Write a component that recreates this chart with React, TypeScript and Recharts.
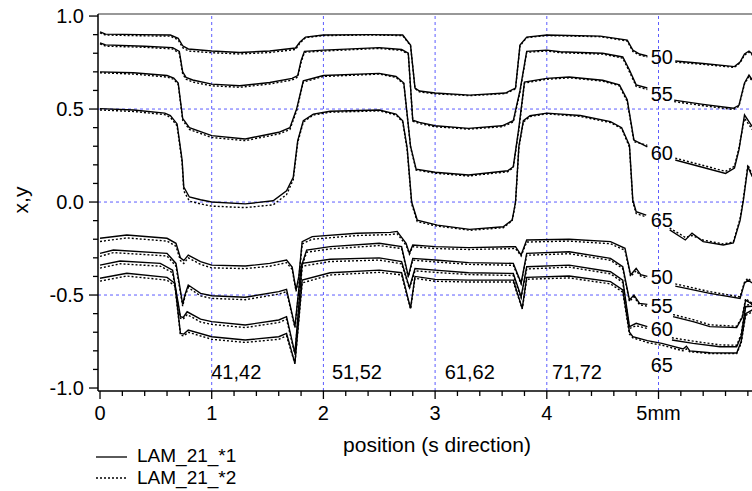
import { LineChart, Line, XAxis, YAxis, ReferenceLine, ReferenceDot } from 'recharts';

// axis ranges and ticks
const X_DOMAIN: [number, number] = [-0.018, 5.837];
const Y_DOMAIN: [number, number] = [-1.016, 1.011];
const X_TICKS = [0, 0.2, 0.4, 0.6, 0.8, 1, 1.2, 1.4, 1.6, 1.8, 2, 2.2, 2.4, 2.6, 2.8, 3, 3.2, 3.4, 3.6, 3.8, 4, 4.2, 4.4, 4.6, 4.8, 5, 5.2, 5.4, 5.6, 5.8];
const X_MAJOR_LABELS = ['0', '1', '2', '3', '4', '5mm'];
const Y_TICKS = [-1, -0.9, -0.8, -0.7, -0.6, -0.5, -0.4, -0.3, -0.2, -0.1, 0, 0.1, 0.2, 0.3, 0.4, 0.5, 0.6, 0.7, 0.8, 0.9, 1];
const GRID_X = [1, 2, 3, 4, 5];
const GRID_Y = [-0.5, 0, 0.5];

// upper group (x profiles) — A = LAM_21_*1 (solid), B = LAM_21_*2 (dotted)
const up50X = [0, 0.05, 0.36, 0.63, 0.7, 0.74, 0.79, 1.0, 1.25, 1.52, 1.75, 1.79, 1.84, 2.0, 2.42, 2.71, 2.78, 2.82, 2.86, 3.0, 3.31, 3.63, 3.72, 3.76, 3.82, 4.0, 4.48, 4.72, 4.77, 4.83, 4.9, 5.0, 5.15, 5.4, 5.68, 5.73, 5.77, 5.81, 5.84];
const up50A = [0.915, 0.903, 0.9, 0.898, 0.88, 0.84, 0.823, 0.812, 0.804, 0.812, 0.828, 0.86, 0.887, 0.898, 0.9, 0.898, 0.844, 0.613, 0.597, 0.586, 0.575, 0.586, 0.613, 0.844, 0.887, 0.898, 0.892, 0.871, 0.817, 0.796, 0.785, null, 0.758, 0.745, 0.728, 0.753, 0.796, 0.812, 0.796];
const up50B = [0.91, 0.898, 0.894, 0.892, 0.872, 0.83, 0.812, 0.803, 0.796, 0.804, 0.82, 0.855, 0.884, 0.895, 0.898, 0.895, 0.84, 0.61, 0.592, 0.582, 0.572, 0.583, 0.608, 0.84, 0.884, 0.895, 0.889, 0.866, 0.81, 0.79, 0.78, null, 0.752, 0.74, 0.724, 0.748, 0.79, 0.806, 0.79];

const up55X = [0, 0.05, 0.4, 0.65, 0.71, 0.74, 0.77, 0.83, 1.0, 1.25, 1.52, 1.72, 1.77, 1.8, 1.83, 2.0, 2.5, 2.7, 2.76, 2.8, 2.86, 3.0, 3.3, 3.6, 3.7, 3.76, 3.82, 4.0, 4.12, 4.5, 4.68, 4.74, 4.8, 4.9, 5.0, 5.14, 5.4, 5.67, 5.72, 5.77, 5.81, 5.84];
const up55A = [0.855, 0.845, 0.838, 0.83, 0.81, 0.7, 0.67, 0.656, 0.634, 0.625, 0.643, 0.665, 0.68, 0.76, 0.81, 0.817, 0.83, 0.82, 0.8, 0.44, 0.428, 0.41, 0.396, 0.41, 0.437, 0.6, 0.81, 0.817, 0.808, 0.8, 0.78, 0.71, 0.63, 0.613, null, 0.548, 0.525, 0.504, 0.52, 0.64, 0.683, 0.656];
const up55B = [0.85, 0.838, 0.832, 0.823, 0.8, 0.69, 0.66, 0.645, 0.625, 0.617, 0.635, 0.656, 0.672, 0.75, 0.805, 0.812, 0.826, 0.815, 0.795, 0.435, 0.422, 0.405, 0.392, 0.405, 0.43, 0.59, 0.805, 0.812, 0.803, 0.795, 0.774, 0.7, 0.622, 0.605, null, 0.54, 0.518, 0.498, 0.515, 0.635, 0.675, 0.648];

const up60X = [0, 0.3, 0.6, 0.66, 0.7, 0.74, 0.8, 1.0, 1.3, 1.6, 1.7, 1.76, 1.82, 2.0, 2.5, 2.65, 2.72, 2.78, 2.83, 3.0, 3.3, 3.65, 3.7, 3.75, 3.8, 4.0, 4.2, 4.5, 4.65, 4.72, 4.78, 4.9, 5.0, 5.15, 5.6, 5.68, 5.72, 5.77, 5.84];
const up60A = [0.7, 0.695, 0.68, 0.667, 0.64, 0.45, 0.4, 0.357, 0.339, 0.375, 0.4, 0.5, 0.652, 0.68, 0.692, 0.675, 0.64, 0.3, 0.177, 0.16, 0.145, 0.168, 0.19, 0.4, 0.645, 0.665, 0.672, 0.655, 0.63, 0.55, 0.333, 0.297, null, 0.226, 0.154, 0.183, 0.28, 0.468, 0.405];
const up60B = [0.695, 0.688, 0.672, 0.66, 0.632, 0.44, 0.39, 0.347, 0.33, 0.366, 0.39, 0.49, 0.645, 0.675, 0.688, 0.67, 0.635, 0.295, 0.172, 0.155, 0.14, 0.163, 0.185, 0.39, 0.64, 0.66, 0.668, 0.65, 0.625, 0.54, 0.325, 0.305, null, 0.236, 0.165, 0.192, 0.29, 0.45, 0.39];

const up65X = [0, 0.3, 0.58, 0.63, 0.69, 0.735, 0.75, 0.8, 0.9, 1.0, 1.3, 1.55, 1.67, 1.73, 1.77, 1.82, 1.91, 2.06, 2.5, 2.65, 2.71, 2.75, 2.79, 2.84, 3.02, 3.31, 3.61, 3.69, 3.72, 3.75, 3.79, 3.85, 4.0, 4.3, 4.57, 4.67, 4.74, 4.77, 4.8, 4.89, 5.0, 5.1, 5.24, 5.3, 5.4, 5.58, 5.67, 5.73, 5.76, 5.8, 5.84];
const up65A = [0.502, 0.495, 0.478, 0.465, 0.42, 0.226, 0.08, 0.027, 0.012, 0.0, -0.01, 0.007, 0.06, 0.133, 0.33, 0.437, 0.473, 0.488, 0.495, 0.473, 0.437, 0.29, 0.0, -0.097, -0.124, -0.147, -0.133, -0.097, 0.0, 0.3, 0.437, 0.464, 0.478, 0.465, 0.432, 0.4, 0.305, 0.01, -0.052, -0.07, null, -0.15, -0.204, -0.167, -0.213, -0.231, -0.22, -0.1, 0.01, 0.19, 0.136];
const up65B = [0.495, 0.487, 0.47, 0.455, 0.41, 0.21, 0.06, 0.005, -0.01, -0.022, -0.03, -0.015, 0.04, 0.12, 0.32, 0.43, 0.468, 0.483, 0.49, 0.468, 0.43, 0.28, -0.01, -0.105, -0.13, -0.152, -0.138, -0.1, -0.005, 0.29, 0.43, 0.46, 0.474, 0.46, 0.427, 0.395, 0.295, 0.0, -0.062, -0.08, null, -0.14, -0.19, -0.18, -0.205, -0.225, -0.215, -0.09, 0.02, 0.2, 0.145];

// lower group (y profiles)
const lo50X = [0, 0.24, 0.6, 0.68, 0.72, 0.75, 0.79, 0.9, 1.0, 1.3, 1.52, 1.67, 1.72, 1.755, 1.78, 1.81, 1.9, 2.3, 2.6, 2.66, 2.74, 2.77, 2.8, 3.0, 3.3, 3.72, 3.77, 3.82, 4.2, 4.57, 4.7, 4.75, 4.8, 4.84, 4.9, 5.0, 5.15, 5.46, 5.73, 5.77, 5.8, 5.84];
const lo50A = [-0.195, -0.177, -0.195, -0.222, -0.3, -0.315, -0.285, -0.32, -0.339, -0.344, -0.33, -0.312, -0.35, -0.473, -0.4, -0.213, -0.186, -0.168, -0.163, -0.158, -0.222, -0.276, -0.231, -0.24, -0.245, -0.24, -0.285, -0.204, -0.2, -0.213, -0.249, -0.392, -0.357, -0.39, -0.4, null, -0.452, -0.491, -0.518, -0.436, -0.42, -0.435];
const lo50B = [-0.212, -0.193, -0.21, -0.238, -0.315, -0.33, -0.3, -0.335, -0.354, -0.358, -0.345, -0.326, -0.362, -0.48, -0.41, -0.225, -0.2, -0.18, -0.175, -0.17, -0.232, -0.28, -0.24, -0.25, -0.255, -0.25, -0.29, -0.215, -0.21, -0.224, -0.26, -0.4, -0.37, -0.398, -0.41, null, -0.44, -0.482, -0.51, -0.43, -0.41, -0.43];

const lo55X = [0, 0.12, 0.6, 0.68, 0.74, 0.76, 0.79, 0.9, 1.0, 1.3, 1.6, 1.67, 1.745, 1.8, 1.85, 2.06, 2.5, 2.7, 2.76, 2.8, 3.0, 3.3, 3.7, 3.77, 3.82, 4.2, 4.57, 4.68, 4.74, 4.78, 4.83, 4.9, 5.0, 5.13, 5.31, 5.46, 5.7, 5.75, 5.78, 5.84];
const lo55A = [-0.276, -0.258, -0.276, -0.33, -0.55, -0.5, -0.446, -0.491, -0.504, -0.512, -0.482, -0.47, -0.67, -0.35, -0.258, -0.24, -0.222, -0.24, -0.4, -0.303, -0.312, -0.326, -0.33, -0.436, -0.276, -0.267, -0.303, -0.348, -0.527, -0.5, -0.545, -0.55, null, -0.616, -0.643, -0.67, -0.675, -0.62, -0.527, -0.55];
const lo55B = [-0.292, -0.272, -0.29, -0.345, -0.56, -0.51, -0.46, -0.505, -0.518, -0.525, -0.495, -0.482, -0.675, -0.36, -0.27, -0.252, -0.234, -0.25, -0.405, -0.312, -0.322, -0.335, -0.34, -0.44, -0.286, -0.278, -0.313, -0.358, -0.535, -0.51, -0.552, -0.56, null, -0.605, -0.632, -0.66, -0.668, -0.615, -0.52, -0.545];

const lo60X = [0, 0.18, 0.54, 0.65, 0.72, 0.745, 0.78, 0.9, 1.0, 1.3, 1.6, 1.67, 1.745, 1.81, 2.06, 2.5, 2.7, 2.77, 2.82, 3.0, 3.3, 3.7, 3.77, 3.82, 4.2, 4.57, 4.68, 4.74, 4.8, 4.9, 5.0, 5.12, 5.31, 5.55, 5.7, 5.74, 5.78, 5.84];
const lo60A = [-0.339, -0.317, -0.33, -0.366, -0.616, -0.62, -0.59, -0.63, -0.643, -0.661, -0.634, -0.616, -0.814, -0.33, -0.308, -0.3, -0.32, -0.46, -0.357, -0.366, -0.38, -0.384, -0.509, -0.348, -0.339, -0.375, -0.42, -0.67, -0.652, -0.67, null, -0.742, -0.76, -0.778, -0.778, -0.72, -0.563, -0.56];
const lo60B = [-0.355, -0.332, -0.345, -0.38, -0.625, -0.63, -0.605, -0.645, -0.658, -0.675, -0.648, -0.63, -0.82, -0.345, -0.32, -0.312, -0.332, -0.465, -0.37, -0.378, -0.39, -0.395, -0.515, -0.36, -0.35, -0.386, -0.432, -0.68, -0.665, -0.68, null, -0.73, -0.748, -0.768, -0.77, -0.71, -0.555, -0.55];

const lo65X = [0, 0.24, 0.6, 0.67, 0.72, 0.75, 0.79, 1.0, 1.3, 1.6, 1.67, 1.745, 1.81, 2.06, 2.5, 2.7, 2.78, 2.82, 3.0, 3.3, 3.7, 3.78, 3.82, 4.2, 4.57, 4.68, 4.74, 4.77, 4.9, 5.03, 5.22, 5.25, 5.28, 5.46, 5.7, 5.74, 5.78, 5.84];
const lo65A = [-0.41, -0.383, -0.405, -0.437, -0.706, -0.71, -0.688, -0.724, -0.742, -0.724, -0.706, -0.867, -0.42, -0.38, -0.366, -0.38, -0.572, -0.4, -0.416, -0.42, -0.42, -0.572, -0.405, -0.398, -0.428, -0.473, -0.7, -0.724, -0.745, -0.76, -0.79, -0.775, -0.8, -0.81, -0.812, -0.75, -0.6, -0.58];
const lo65B = [-0.425, -0.398, -0.42, -0.45, -0.715, -0.72, -0.7, -0.738, -0.755, -0.738, -0.72, -0.87, -0.435, -0.392, -0.378, -0.392, -0.575, -0.41, -0.426, -0.43, -0.43, -0.575, -0.415, -0.408, -0.44, -0.485, -0.71, -0.73, -0.755, -0.77, -0.8, -0.79, -0.805, -0.815, -0.815, -0.76, -0.61, -0.59];

// curve labels
const CURVE_LABELS = ['50', '55', '60', '65'];
const CURVE_LABEL_X = 5.03;
const UPPER_LABEL_Y = [0.78, 0.58, 0.263, -0.097];
const LOWER_LABEL_Y = [-0.403, -0.559, -0.683, -0.876];
const REGION_LABELS = ['41,42', '51,52', '61,62', '71,72'];
const REGION_LABEL_X = [1.22, 2.3, 3.31, 4.27];
const REGION_LABEL_Y = -0.914;

const FONT = '"Liberation Sans", Arial, sans-serif';

const SERIES = [
  { key: 'u50', xs: up50X, a: up50A, b: up50B },
  { key: 'u55', xs: up55X, a: up55A, b: up55B },
  { key: 'u60', xs: up60X, a: up60A, b: up60B },
  { key: 'u65', xs: up65X, a: up65A, b: up65B },
  { key: 'l50', xs: lo50X, a: lo50A, b: lo50B },
  { key: 'l55', xs: lo55X, a: lo55A, b: lo55B },
  { key: 'l60', xs: lo60X, a: lo60A, b: lo60B },
  { key: 'l65', xs: lo65X, a: lo65A, b: lo65B },
];

const toPoints = (xs: number[], ys: (number | null)[]) => xs.map((x, i) => ({ x, y: ys[i] }));

const XTick = ({ x, y, payload }: any) => {
  const v = payload.value as number;
  const major = Math.abs(v - Math.round(v)) < 1e-6;
  return (
    <g>
      <line x1={x} x2={x} y1={y} y2={y + (major ? 8 : 5)} stroke="#000" strokeWidth={1.3} />
      {major && (
        <text x={x} y={y + 29} textAnchor="middle" fontSize={20} fontFamily={FONT} fill="#000">
          {X_MAJOR_LABELS[Math.round(v)]}
        </text>
      )}
    </g>
  );
};

const YTick = ({ x, y, payload }: any) => {
  const v = payload.value as number;
  const major = Math.abs(v * 2 - Math.round(v * 2)) < 1e-6;
  return (
    <g>
      <line x1={x - (major ? 9 : 5)} x2={x} y1={y} y2={y} stroke="#000" strokeWidth={1.3} />
      {major && (
        <text x={x - 14} y={y} textAnchor="end" dominantBaseline="central" fontSize={20} fontFamily={FONT} fill="#000">
          {v.toFixed(1)}
        </text>
      )}
    </g>
  );
};

const textShape = (text: string) => (p: any) => (
  <text x={p.cx} y={p.cy} textAnchor="middle" dominantBaseline="central" fontSize={20} fontFamily={FONT} fill="#000">
    {text}
  </text>
);

export default function App() {
  return (
    <div style={{ position: 'absolute', left: 0, top: 0, width: 752, height: 491, background: '#fff', overflow: 'hidden' }}>
      <LineChart width={752} height={491} margin={{ top: 14, right: 0, bottom: 0, left: 0 }}>
        <XAxis
          dataKey="x"
          type="number"
          domain={X_DOMAIN}
          allowDataOverflow
          ticks={X_TICKS}
          interval={0}
          height={100}
          tickSize={0}
          tickMargin={0}
          tickLine={false}
          tick={<XTick />}
          axisLine={{ stroke: '#000', strokeWidth: 1.5 }}
        />
        <YAxis
          dataKey="y"
          type="number"
          domain={Y_DOMAIN}
          allowDataOverflow
          ticks={Y_TICKS}
          interval={0}
          width={98}
          tickSize={0}
          tickMargin={0}
          tickLine={false}
          tick={<YTick />}
          axisLine={{ stroke: '#000', strokeWidth: 1.5 }}
        />
        {GRID_X.map(v => (
          <ReferenceLine key={'gx' + v} x={v} stroke="#5c5cff" strokeDasharray="3 3" strokeWidth={1} />
        ))}
        {GRID_Y.map(v => (
          <ReferenceLine key={'gy' + v} y={v} stroke="#5c5cff" strokeDasharray="3 3" strokeWidth={1} />
        ))}
        <ReferenceLine y={Y_DOMAIN[1]} stroke="#333" strokeWidth={1.2} />
        {SERIES.map(s => (
          <Line
            key={s.key + 'b'}
            data={toPoints(s.xs, s.b)}
            dataKey="y"
            type="linear"
            stroke="#000"
            strokeWidth={1.4}
            strokeDasharray="2 2"
            dot={false}
            isAnimationActive={false}
          />
        ))}
        {SERIES.map(s => (
          <Line
            key={s.key + 'a'}
            data={toPoints(s.xs, s.a)}
            dataKey="y"
            type="linear"
            stroke="#000"
            strokeWidth={1.4}
            dot={false}
            isAnimationActive={false}
          />
        ))}
        {CURVE_LABELS.map((t, i) => (
          <ReferenceDot key={'ul' + t} x={CURVE_LABEL_X} y={UPPER_LABEL_Y[i]} r={0} shape={textShape(t)} />
        ))}
        {CURVE_LABELS.map((t, i) => (
          <ReferenceDot key={'ll' + t} x={CURVE_LABEL_X} y={LOWER_LABEL_Y[i]} r={0} shape={textShape(t)} />
        ))}
        {REGION_LABELS.map((t, i) => (
          <ReferenceDot key={'rl' + t} x={REGION_LABEL_X[i]} y={REGION_LABEL_Y} r={0} shape={textShape(t)} />
        ))}
      </LineChart>
      <svg width={752} height={491} style={{ position: 'absolute', left: 0, top: 0, pointerEvents: 'none' }}>
        <text x={28} y={200} transform="rotate(-90 28 200)" textAnchor="middle" fontSize={21} fontFamily={FONT} fill="#000">
          x,y
        </text>
        <text x={437} y={452} textAnchor="middle" fontSize={21} fontFamily={FONT} fill="#000">
          position (s direction)
        </text>
        <line x1={96} x2={127} y1={457} y2={457} stroke="#000" strokeWidth={1.3} />
        <text x={137} y={462} fontSize={19} fontFamily={FONT} fill="#000">LAM_21_*1</text>
        <line x1={96} x2={127} y1={478} y2={478} stroke="#000" strokeWidth={1.3} strokeDasharray="2 2" />
        <text x={137} y={484} fontSize={19} fontFamily={FONT} fill="#000">LAM_21_*2</text>
      </svg>
    </div>
  );
}
